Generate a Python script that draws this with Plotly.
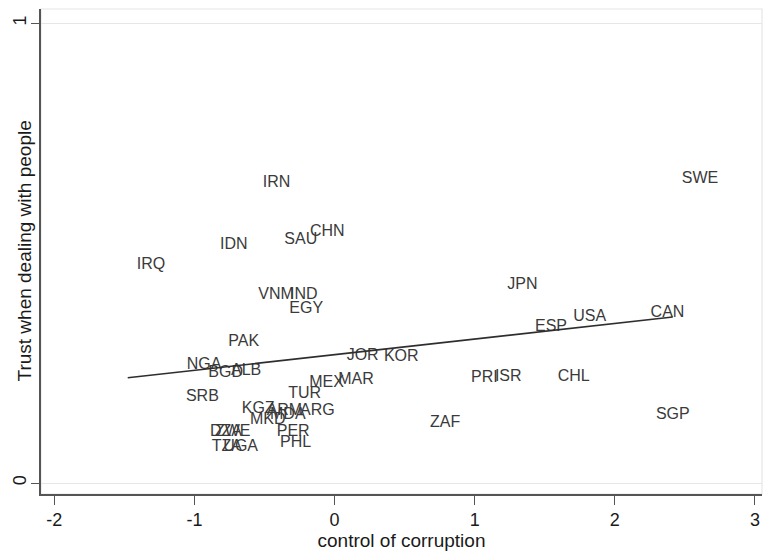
import plotly.graph_objects as go

countries = ["IRN", "SWE", "CHN", "SAU", "IDN", "IRQ", "JPN", "VNM", "IND", "EGY",
             "CAN", "USA", "ESP", "PAK", "JOR", "KOR", "NGA", "ALB", "BGD", "MEX",
             "MAR", "PRI", "ISR", "CHL", "SRB", "TUR", "KGZ", "ARM", "ARG", "MKD",
             "MDA", "ZAF", "SGP", "PER", "PHL", "DZA", "ZWE", "TZA", "UGA"]
corruption = [-0.577, 2.413, -0.240, -0.423, -0.882, -1.476, 1.168, -0.609, -0.382, -0.387,
              2.191, 1.639, 1.366, -0.823, 0.022, 0.288, -1.120, -0.803, -0.965, -0.245,
              -0.038, 0.909, 1.080, 1.528, -1.125, -0.395, -0.727, -0.549, -0.311, -0.668,
              -0.525, 0.617, 2.229, -0.477, -0.454, -0.953, -0.918, -0.941, -0.858]
trust = [0.652, 0.661, 0.545, 0.529, 0.518, 0.474, 0.431, 0.409, 0.409, 0.378,
         0.369, 0.362, 0.340, 0.306, 0.276, 0.274, 0.257, 0.244, 0.239, 0.217,
         0.224, 0.228, 0.231, 0.230, 0.188, 0.194, 0.161, 0.157, 0.157, 0.137,
         0.148, 0.131, 0.148, 0.112, 0.088, 0.112, 0.112, 0.079, 0.079]

fit_x = [-1.476, 2.413]
fit_y = [0.229, 0.361]

x_ticks = [-2, -1, 0, 1, 2, 3]
y_ticks = [0, 1]

FONT = "Liberation Sans, Arial, Helvetica, sans-serif"

fig = go.Figure()
fig.add_trace(go.Scatter(
    x=corruption, y=trust, text=countries, mode="markers+text",
    textposition="middle right",
    marker=dict(size=12.8, color="rgba(0,0,0,0)"),
    textfont=dict(family=FONT, size=16, color="#3a3a3a"),
    hoverinfo="text", showlegend=False,
))
fig.add_trace(go.Scatter(
    x=fit_x, y=fit_y, mode="lines",
    line=dict(color="#2e2e2e", width=1.6), showlegend=False, hoverinfo="skip",
))

fig.update_layout(
    width=766, height=552,
    margin=dict(l=41, r=4, t=9, b=58),
    paper_bgcolor="white", plot_bgcolor="white",
    font=dict(family=FONT, color="#1a1a1a"),
    xaxis=dict(
        range=[-2.095, 3.050], tickvals=x_ticks, ticktext=[str(v) for v in x_ticks],
        ticks="outside", ticklen=9, tickwidth=1.3, tickcolor="#555",
        showline=True, linecolor="#555", linewidth=1.5,
        showgrid=False, zeroline=False,
        tickfont=dict(size=18, color="#1a1a1a"),
        title=dict(text="control of corruption", font=dict(size=19, color="#1a1a1a"), standoff=2),
    ),
    yaxis=dict(
        range=[-0.0239, 1.031], tickvals=y_ticks, ticktext=[str(v) for v in y_ticks],
        ticks="outside", ticklen=8, tickwidth=1.3, tickcolor="#555",
        showline=True, linecolor="#555", linewidth=1.5,
        showgrid=True, gridcolor="#e6e6e6", gridwidth=1.2, zeroline=False,
        tickangle=-90, ticklabelstandoff=-2,
        tickfont=dict(size=18, color="#1a1a1a"),
    ),
    shapes=[dict(type="rect", xref="paper", yref="paper", x0=0, x1=1, y0=0, y1=1,
                 line=dict(color="#e6e6e6", width=1.2), layer="below")],
    annotations=[dict(text="Trust when dealing with people", xref="paper", yref="paper",
                      x=0, y=0.5, xshift=-17, textangle=-90, showarrow=False,
                      xanchor="center", yanchor="middle",
                      font=dict(size=19, color="#1a1a1a"))],
)

fig.write_html("out.html", config={"displayModeBar": False},
               post_script="document.body.style.margin='0';document.body.style.overflow='hidden';")
